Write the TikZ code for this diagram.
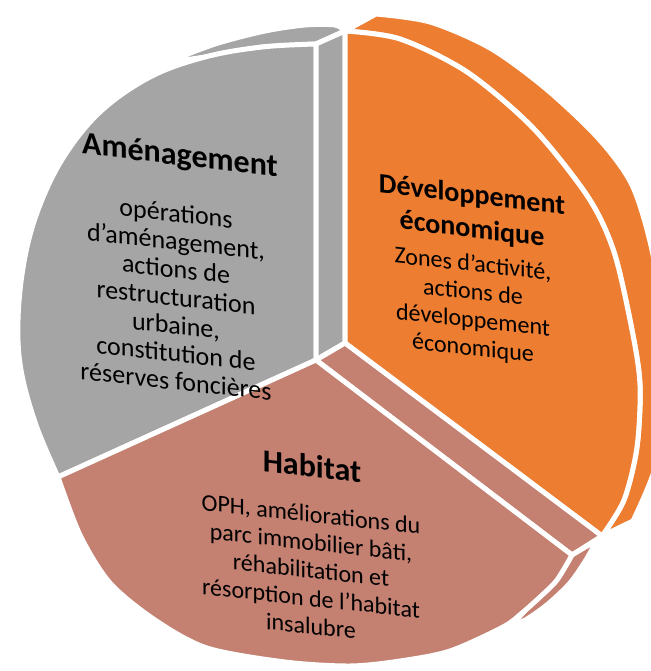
\documentclass[tikz,border=0pt]{standalone}
\usepackage{fontspec}
\setmainfont{Carlito}
\definecolor{amgray}{HTML}{A5A5A5}
\definecolor{devorange}{HTML}{ED7D31}
\definecolor{habrose}{RGB}{196,128,113}
\begin{document}
\begin{tikzpicture}[x=0.5pt,y=-0.5pt,
    face/.style={draw=white,line width=2.5pt,line join=round},
    title/.style={font=\bfseries\fontsize{16}{19}\selectfont,yslant=-0.12,align=center},
    body/.style={font=\fontsize{12}{14}\selectfont,yslant=-0.11,align=center}]
  \useasboundingbox (0,0) rectangle (650,671);
  % Aménagement
  \path[face,fill=amgray] (165,63) -- plot[smooth] coordinates {(165,63) (215,44) (265,31) (305,25) (335,25) (345,31)}
    -- (316,44) -- (262,47) -- (205,57) -- cycle;
  \path[face,fill=amgray] (316,360) -- (58,477) -- plot[smooth,tension=0.6] coordinates {(58,477) (36,425) (21,370) (18,320) (24,262) (38,210) (63,158) (100,112) (150,77) (205,57) (262,47) (316,44)} -- cycle;
  \path[face,fill=amgray] (316,360) -- (316,44) -- (345,31) -- (345,343) -- cycle;
  % Développement économique
  \path[face,fill=devorange] (345,31) -- (376,14) -- plot[smooth] coordinates {(376,14) (430,22) (490,48) (545,88) (598,138) (632,185) (652,250) (664,330) (665,400) (655,468) (633,521)}
    -- (602,536) -- plot[smooth] coordinates {(602,536) (624,500) (637,447) (640,385) (632,330) (614,252) (588,197) (533,128) (467,72) (400,39) (345,31)} -- cycle;
  \path[face,fill=devorange] (345,343) -- (345,31) -- plot[smooth] coordinates {(345,31) (400,39) (467,72) (533,128) (588,197) (614,252) (632,330) (640,385) (637,447) (624,500) (602,536)} -- cycle;
  % Habitat
  \path[face,fill=habrose] (316,360) -- (345,343) -- (602,536) -- (572,555) -- cycle;
  \path[face,fill=habrose] (572,555) -- (597,540) -- plot[smooth] coordinates {(597,540) (586,560) (570,583) (548,604) (527,619) (510,627)} -- (530,605) -- cycle;
  \path[face,fill=habrose] (316,360) -- (572,555) -- plot[smooth] coordinates {(572,555) (557,580) (540,597) (522,613) (503,627) (450,651) (400,661) (350,666) (285,662) (207,648) (155,620) (110,583) (80,535) (58,477)} -- cycle;

  \node[title] (amtitle) at (180,157) {Aménagement};
  \node[body,font=\fontsize{13}{14}\selectfont] (ambody) at (176,297)
    {opérations\\d’aménagement,\\actions de\\restructuration\\urbaine,\\constitution de\\réserves foncières};
  \node[title,font=\bfseries\fontsize{14}{17}\selectfont] (devtitle) at (472,213) {Développement\\économique};
  \node[body] (devbody) at (473,307) {Zones d’activité,\\actions de\\développement\\économique};
  \node[title] (habtitle) at (312,466) {Habitat};
  \node[body] (habbody) at (311,570)
    {OPH, améliorations du\\parc immobilier bâti,\\réhabilitation et\\résorption de l’habitat\\insalubre};
\end{tikzpicture}
\end{document}
